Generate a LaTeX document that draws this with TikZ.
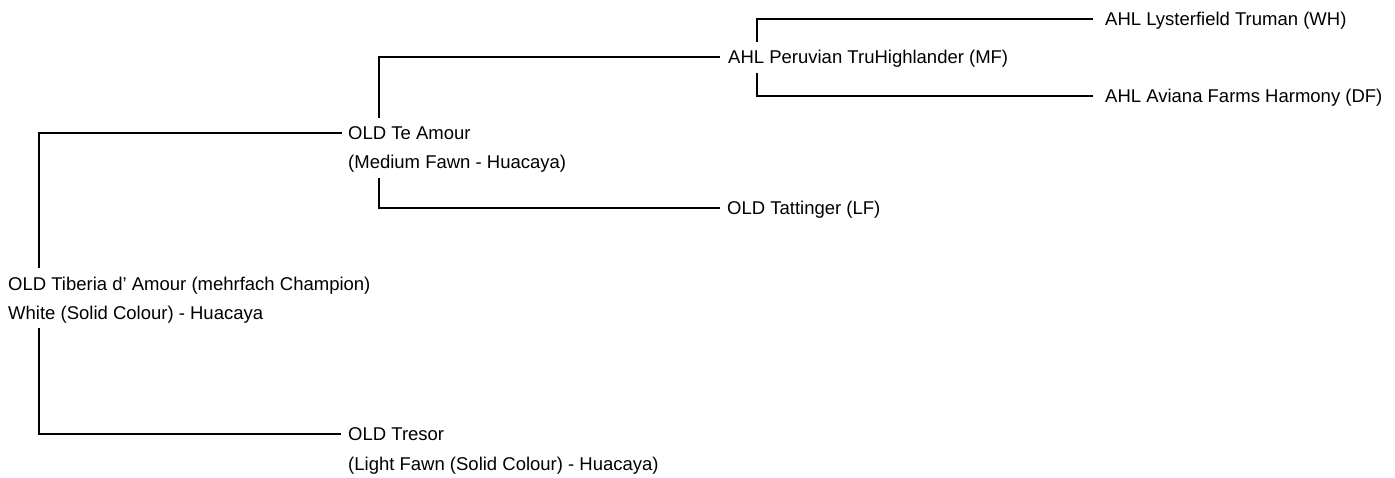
\documentclass[tikz,border=0pt]{standalone}
\usepackage{fontspec}
\setmainfont{Liberation Sans}
\begin{document}
\begin{tikzpicture}[x=1pt,y=-1pt,
  pname/.style={anchor=west, inner sep=0pt, font=\fontsize{18.5}{22}\selectfont, text height=13.3pt, text depth=0pt},
  link/.style={draw=black, line width=1.2pt}]
\useasboundingbox (0,0) rectangle (1395,478);
\node[pname] (root) at (8,284) {OLD Tiberia d’ Amour (mehrfach Champion)};
\node[pname] (rootsub) at (8,313) {White (Solid Colour) - Huacaya};
\node[pname] (te) at (348,133) {OLD Te Amour};
\node[pname] (tesub) at (348,162) {(Medium Fawn - Huacaya)};
\node[pname] (tr) at (348,434) {OLD Tresor};
\node[pname] (trsub) at (348,464) {(Light Fawn (Solid Colour) - Huacaya)};
\node[pname] (pe) at (728,57) {AHL Peruvian TruHighlander (MF)};
\node[pname] (ta) at (727,208) {OLD Tattinger (LF)};
\node[pname] (ly) at (1105,19) {AHL Lysterfield Truman (WH)};
\node[pname] (av) at (1105,96) {AHL Aviana Farms Harmony (DF)};
\draw[link] ([xshift=31pt,yshift=9pt]root.north west) |- ([xshift=-6pt]te.west);
\draw[link] ([xshift=31pt,yshift=-8pt]rootsub.south west) |- ([xshift=-7pt]tr.west);
\draw[link] ([xshift=31pt,yshift=8pt]te.north west) |- ([xshift=-8pt]pe.west);
\draw[link] ([xshift=31pt,yshift=-9pt]tesub.south west) |- ([xshift=-7pt]ta.west);
\draw[link] ([xshift=29pt,yshift=8pt]pe.north west) |- ([xshift=-12pt]ly.west);
\draw[link] ([xshift=29pt,yshift=-9pt]pe.south west) |- ([xshift=-12pt]av.west);
\end{tikzpicture}
\end{document}
